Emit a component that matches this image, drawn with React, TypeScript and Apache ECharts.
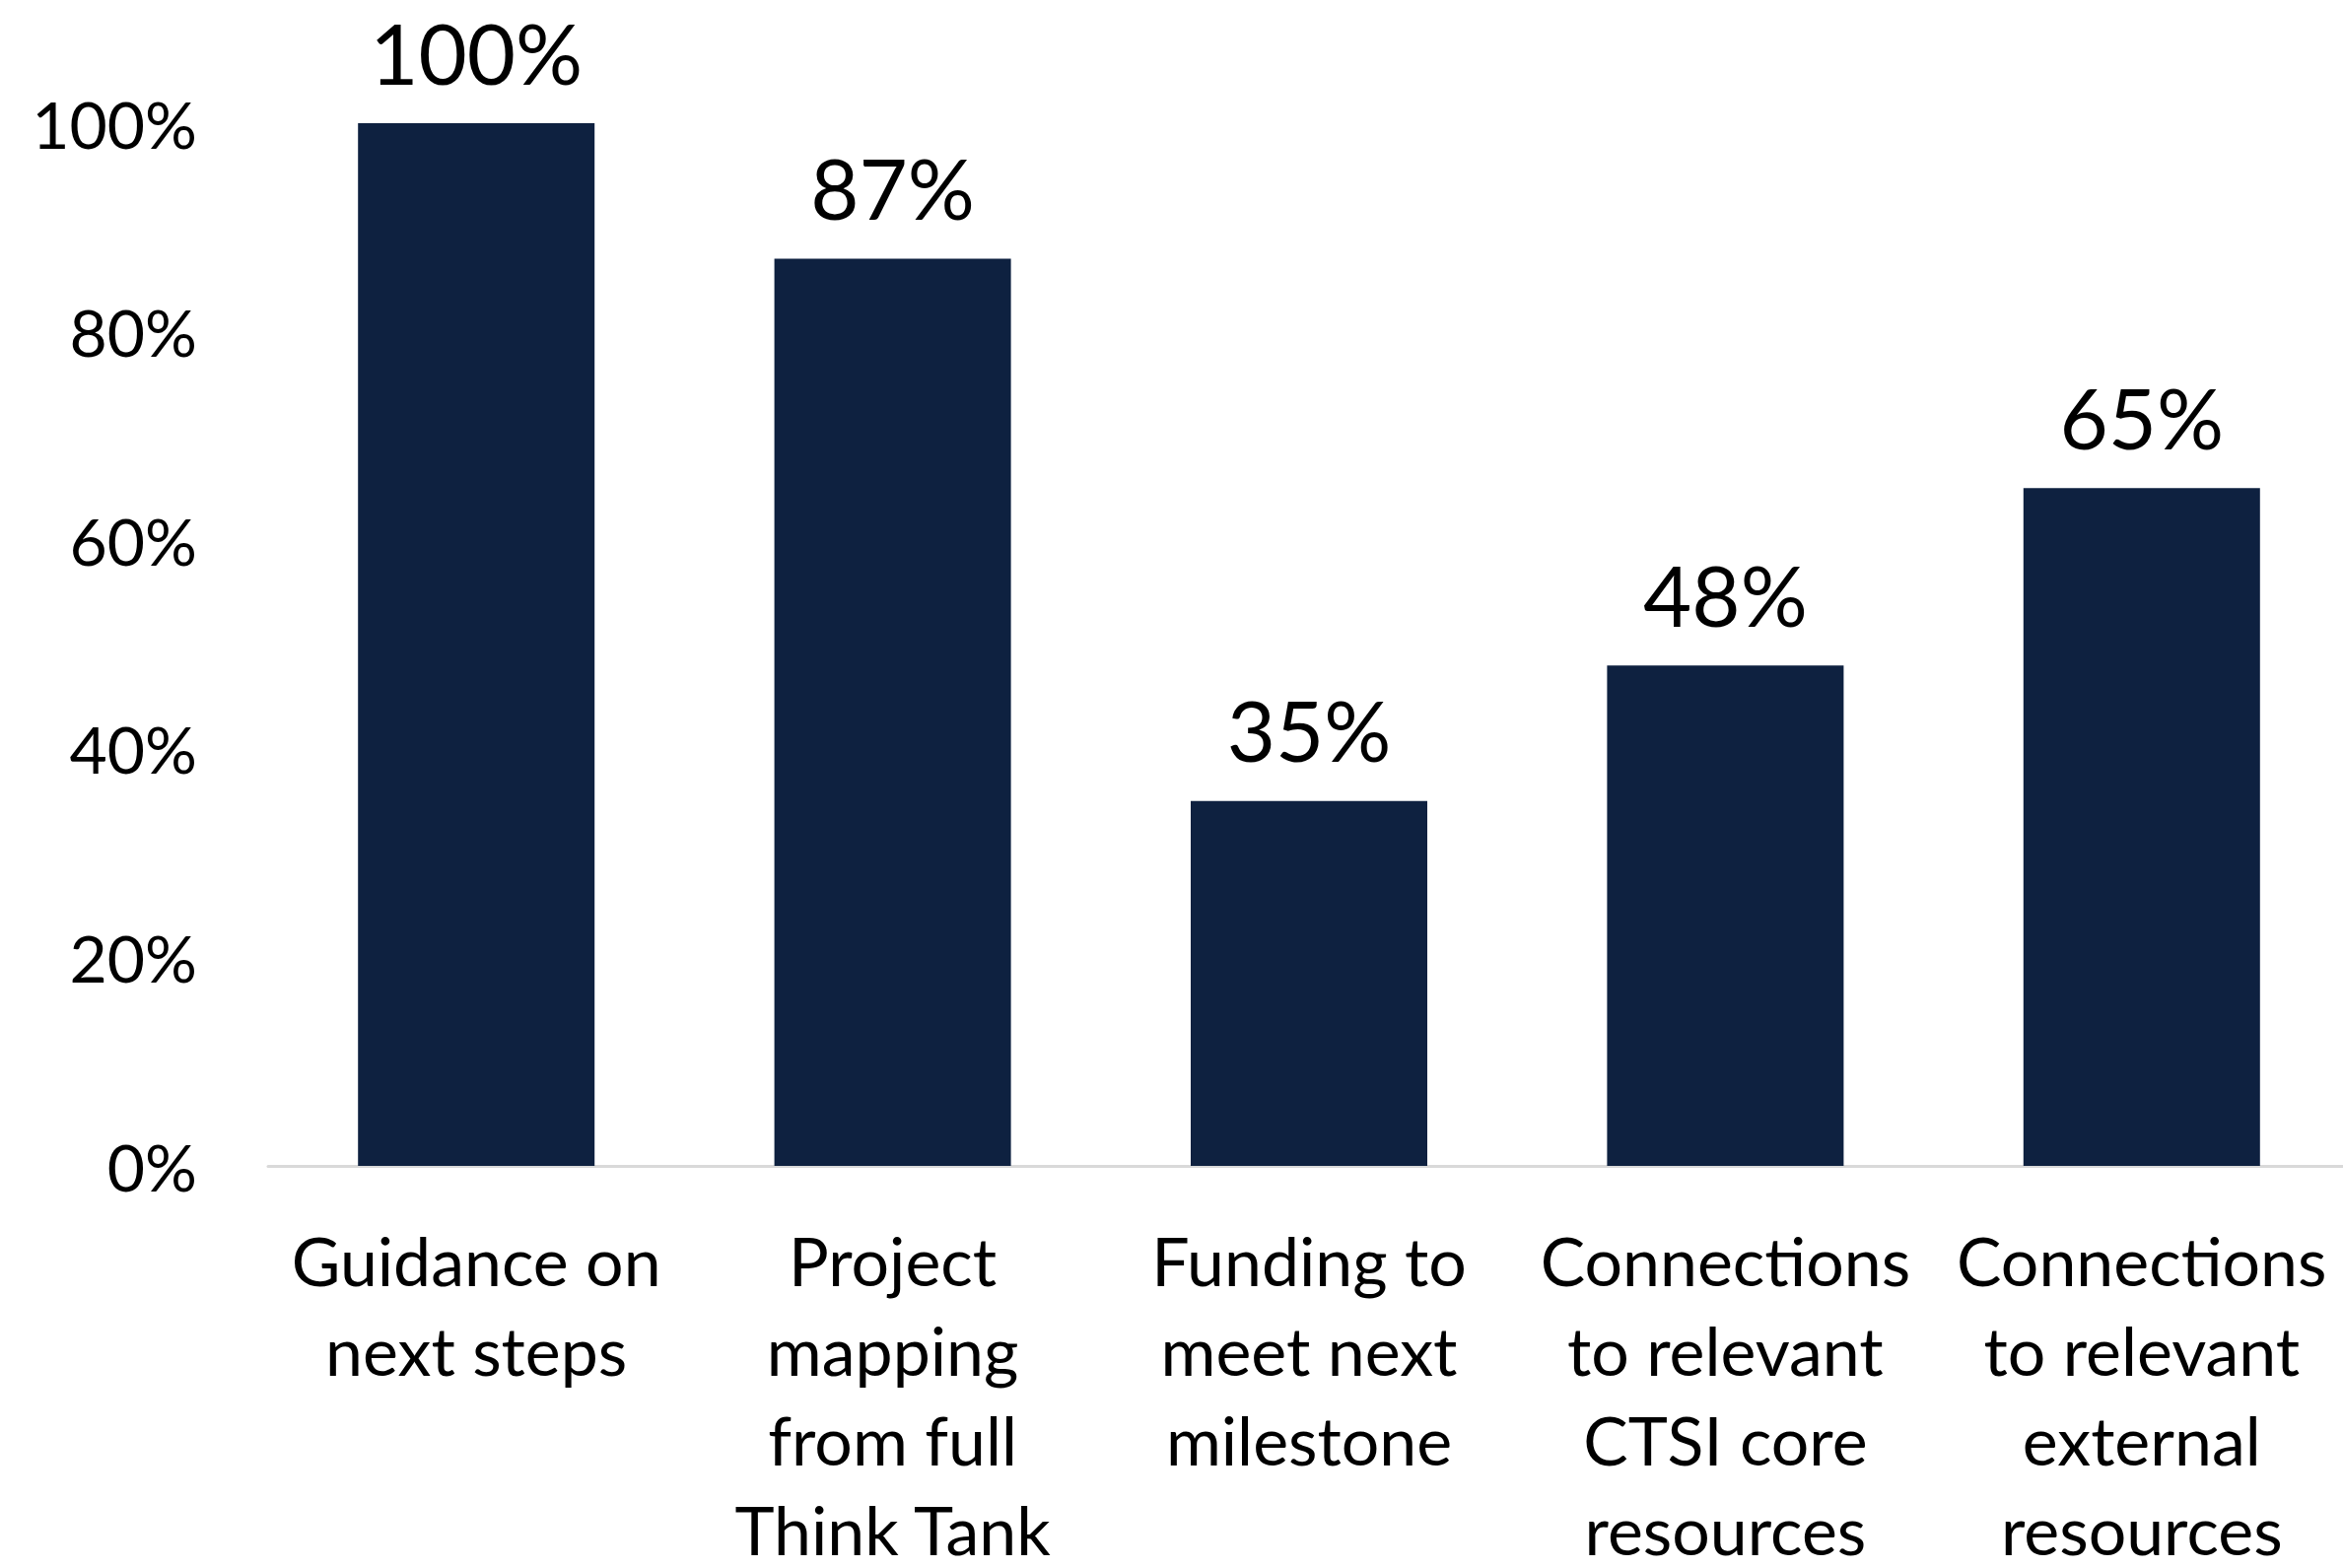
import React, { useEffect, useRef } from "react";
import * as echarts from "echarts";

const categories = [
  "Guidance on\nnext steps",
  "Project\nmapping\nfrom full\nThink Tank",
  "Funding to\nmeet next\nmilestone",
  "Connections\nto relevant\nCTSI core\nresources",
  "Connections\nto relevant\nexternal\nresources",
];
const values = [100, 87, 35, 48, 65];
const yTicks = [0, 20, 40, 60, 80, 100];

export default function App() {
  const ref = useRef<HTMLDivElement>(null);
  useEffect(() => {
    if (!ref.current) return;
    const chart = echarts.init(ref.current, undefined, { renderer: "svg" });
    const font = "Lato, 'Open Sans', sans-serif";
    chart.setOption({
      animation: false,
      backgroundColor: "#ffffff",
      grid: {
        left: 272,
        top: 125,
        width: 2112,
        bottom: 408,
        containLabel: false,
        outerBoundsMode: "none",
      },
      xAxis: {
        type: "category",
        data: categories,
        axisLine: { show: true, lineStyle: { color: "#d9d9d9", width: 3 } },
        axisTick: { show: false },
        axisLabel: {
          interval: 0,
          color: "#000000",
          fontFamily: font,
          fontSize: 68,
          lineHeight: 91,
          margin: 50,
          align: "center",
        },
      },
      yAxis: {
        type: "value",
        min: yTicks[0],
        max: yTicks[yTicks.length - 1],
        interval: 20,
        axisLine: { show: false },
        axisTick: { show: false },
        splitLine: { show: false },
        axisLabel: {
          color: "#000000",
          fontFamily: font,
          fontSize: 66,
          margin: 72,
          formatter: (v: number) => `${v}%`,
        },
      },
      series: [
        {
          type: "bar",
          data: values,
          barWidth: 240,
          itemStyle: { color: "#0e2140" },
          label: {
            show: true,
            position: "top",
            distance: 30,
            color: "#000000",
            fontFamily: font,
            fontSize: 85,
            formatter: (p: any) => `${p.value}%`,
          },
        },
      ],
    });
    return () => chart.dispose();
  }, []);
  return (
    <div
      ref={ref}
      style={{ position: "fixed", left: 0, top: 0, width: 2377, height: 1591, background: "#fff" }}
    />
  );
}
